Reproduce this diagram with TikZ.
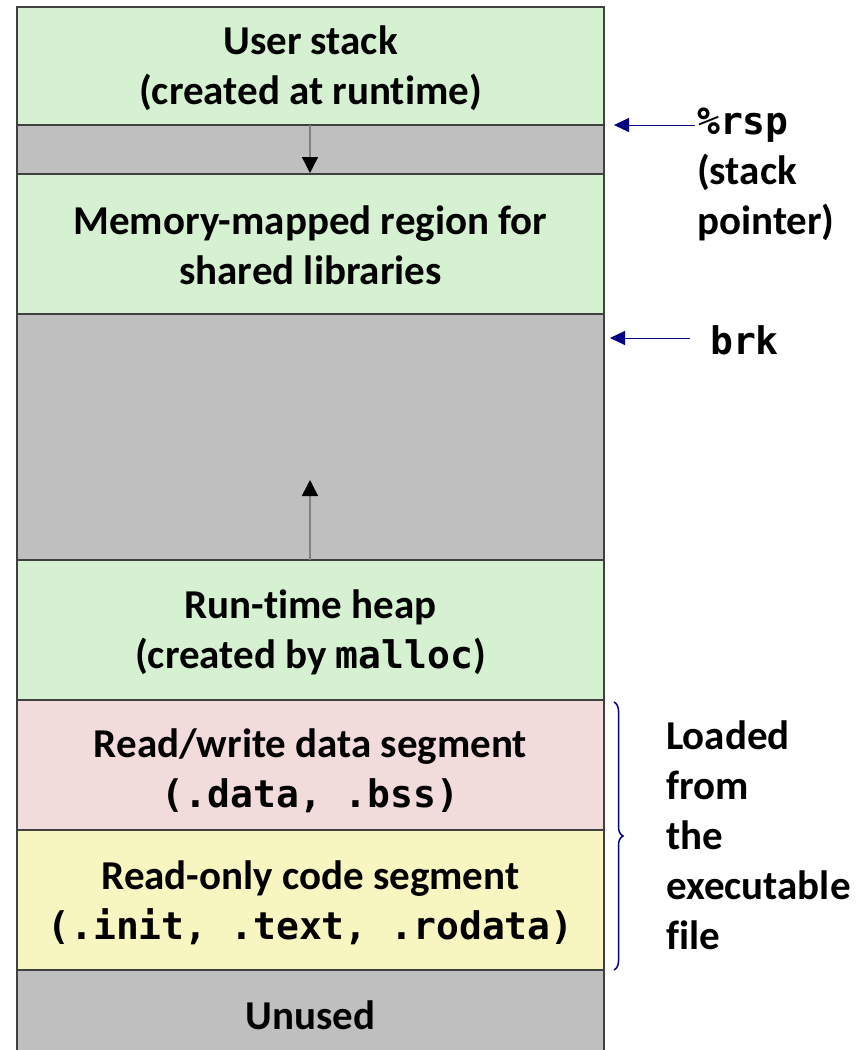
\documentclass[tikz,border=0pt]{standalone}
\usepackage{fontspec}
\setmainfont{Carlito}[RawFeature={-liga}]
\setmonofont{DejaVu Sans Mono}
\usetikzlibrary{arrows.meta,decorations.pathreplacing}
\definecolor{segGreen}{HTML}{D6F1D1}
\definecolor{segGray}{HTML}{BFBFBF}
\definecolor{segPink}{HTML}{F2DCDB}
\definecolor{segYellow}{HTML}{F7F5C0}
\definecolor{segLine}{HTML}{404040}
\definecolor{navy}{HTML}{000080}
\tikzset{
  seg/.style={draw=segLine, line width=1.5pt},
  lbl/.style={font=\fontsize{41}{50}\selectfont\bfseries, align=center, inner sep=0pt},
  side/.style={font=\fontsize{41}{50}\selectfont\bfseries, align=left, anchor=west, inner sep=0pt},
  growarrow/.style={draw=gray, line width=1.5pt, -{Triangle[length=16pt,width=16pt,fill=black,color=black]}},
  ptr/.style={draw=navy, line width=1pt, -{Triangle[length=15pt,width=14pt]}}
}
\newcommand{\code}[1]{{\fontsize{38}{50}\selectfont\ttfamily\bfseries #1}}
\begin{document}
\begin{tikzpicture}[x=1pt,y=-1pt]
\useasboundingbox (0,0) rectangle (861,1050);
\clip (0,0) rectangle (861,1050);
% address-space segments, top to bottom
\filldraw[seg, fill=segGreen]  (17,7)   rectangle (604,125);
\filldraw[seg, fill=segGray]   (17,125) rectangle (604,174);
\filldraw[seg, fill=segGreen]  (17,174) rectangle (604,314);
\filldraw[seg, fill=segGray]   (17,314) rectangle (604,560);
\filldraw[seg, fill=segGreen]  (17,560) rectangle (604,700);
\filldraw[seg, fill=segPink]   (17,700) rectangle (604,830);
\filldraw[seg, fill=segYellow] (17,830) rectangle (604,970);
\filldraw[seg, fill=segGray]   (17,970) rectangle (604,1070);

% segment labels
\node[lbl] (stack) at (310.5,68) {User stack\\(created at runtime)};
\node[lbl] (mmap) at (310.5,245) {Memory-mapped region for\\shared libraries};
\node[lbl] (heap) at (310.5,632) {Run-time heap\\(created by \code{malloc})};
\node[lbl] (data) at (310.5,771) {Read/write data segment\\\code{(.data, .bss)}};
\node[lbl] (text) at (310.5,903) {Read-only code segment\\\code{(.init, .text, .rodata)}};
\node[lbl] (unused) at (310.5,1015) {Unused};

% growth arrows
\coordinate (stackTop) at (310,125);
\coordinate (stackEnd) at (310,173);
\coordinate (heapTop) at (310,560);
\coordinate (heapEnd) at (310,480);
\draw[growarrow] (stackTop) -- (stackEnd);
\draw[growarrow] (heapTop) -- (heapEnd);

% pointer labels on the right
\node[side] (rsp) at (697,174) {\code{\%rsp}\\(stack\\pointer)};
\node[side] (brk) at (710,340) {\code{brk}};
\coordinate (rspTip) at (614,125);
\coordinate (rspTail) at (695,125);
\coordinate (brkTip) at (610,338);
\coordinate (brkTail) at (690,338);
\draw[ptr] (rspTail) -- (rspTip);
\draw[ptr] (brkTail) -- (brkTip);

% brace over the segments loaded from the executable
\coordinate (braceTop) at (614,702);
\coordinate (braceBot) at (614,970);
\draw[navy, line width=1.5pt, decorate, decoration={brace, amplitude=9pt}] (braceTop) -- (braceBot);
\node[side] (loaded) at (666,835) {Loaded\\from\\the\\executable\\file};
\end{tikzpicture}
\end{document}
